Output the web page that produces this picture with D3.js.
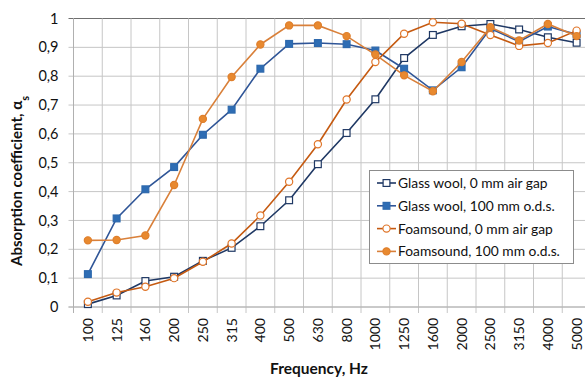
<!DOCTYPE html>
<html>
<head>
<meta charset="utf-8">
<script src="https://cdn.jsdelivr.net/npm/d3@7"></script>
<style>
  body { margin: 0; background: #fff; }
  svg text { font-family: Lato, "Open Sans", sans-serif; fill: #111; }
</style>
</head>
<body>
<svg id="chart" width="585" height="378"></svg>
<script>
// frequencies (x categories)
const freqs = ["100","125","160","200","250","315","400","500","630","800","1000","1250","1600","2000","2500","3150","4000","5000"];
const yTicks = [0,0.1,0.2,0.3,0.4,0.5,0.6,0.7,0.8,0.9,1];

// absorption coefficient per series
const glass0   = [0.01,0.04,0.09,0.105,0.16,0.205,0.28,0.37,0.495,0.603,0.72,0.863,0.943,0.973,0.981,0.962,0.935,0.916];
const glass100 = [0.114,0.307,0.408,0.485,0.597,0.684,0.826,0.912,0.915,0.911,0.889,0.826,0.751,0.831,0.965,0.92,0.972,0.945];
const foam0    = [0.018,0.05,0.07,0.10,0.157,0.22,0.317,0.434,0.564,0.719,0.849,0.947,0.987,0.982,0.943,0.905,0.915,0.958];
const foam100  = [0.231,0.232,0.248,0.423,0.652,0.797,0.91,0.976,0.976,0.939,0.875,0.803,0.748,0.849,0.97,0.924,0.981,0.939];

const seriesNames = ["Glass wool, 0 mm air gap","Glass wool, 100 mm o.d.s.","Foamsound, 0 mm air gap","Foamsound, 100 mm o.d.s."];

const series = [
  {name: seriesNames[0], values: glass0,   line: "#1f3864", stroke: "#1f3864", fill: "#fff",    shape: "square"},
  {name: seriesNames[1], values: glass100, line: "#2f5597", stroke: "#2e69ad", fill: "#2e6db4", shape: "square"},
  {name: seriesNames[2], values: foam0,    line: "#c55a11", stroke: "#e0762a", fill: "#fff",    shape: "circle"},
  {name: seriesNames[3], values: foam100,  line: "#d9803a", stroke: "#df7f2c", fill: "#e8892f", shape: "circle"}
];

const plotL = 73.5, plotR = 591, plotT = 18.5, plotB = 307;
const svg = d3.select("#chart");

const x = d3.scaleBand().domain(freqs).range([plotL, plotR]).padding(0);
const y = d3.scaleLinear().domain([0, 1]).range([plotB, plotT]);
const cx = d => x(d) + x.bandwidth() / 2;

// horizontal grid
svg.append("g").selectAll("line")
  .data(yTicks)
  .enter().append("line")
  .attr("x1", plotL - 5).attr("x2", plotR)
  .attr("y1", d => y(d)).attr("y2", d => y(d))
  .attr("stroke", d => d === 1 ? "#6f6f6f" : "#c6c6c6")
  .attr("stroke-width", 1);

// vertical grid at category boundaries
const bounds = freqs.map(f => x(f)).concat([plotR]);
svg.append("g").selectAll("line")
  .data(bounds)
  .enter().append("line")
  .attr("x1", d => d).attr("x2", d => d)
  .attr("y1", plotT).attr("y2", plotB + 6)
  .attr("stroke", "#c6c6c6")
  .attr("stroke-width", 1);

// y axis labels
const yAxis = svg.append("g")
  .attr("transform", "translate(" + plotL + ",0)")
  .call(d3.axisLeft(y).tickValues(yTicks).tickSize(0).tickPadding(15)
    .tickFormat(d => d3.format("~g")(d).replace(".", ",")));
yAxis.select(".domain").remove();
yAxis.selectAll("text").style("font-size", "14.5px").attr("fill", "#111");

// x axis labels
const xAxis = svg.append("g")
  .attr("transform", "translate(0," + plotB + ")")
  .call(d3.axisBottom(x).tickSize(0));
xAxis.select(".domain").remove();
xAxis.selectAll("text")
  .style("font-size", "14px")
  .attr("fill", "#111")
  .attr("transform", "rotate(-90)")
  .attr("x", -11)
  .attr("y", 0)
  .attr("dy", "0.36em")
  .attr("text-anchor", "end");

// axis lines
svg.append("line").attr("x1", plotL).attr("x2", plotL).attr("y1", plotT).attr("y2", plotB + 6)
  .attr("stroke", "#b0b0b0");
svg.append("line").attr("x1", plotL - 5).attr("x2", plotR).attr("y1", plotB).attr("y2", plotB)
  .attr("stroke", "#b0b0b0");

// series
const line = d3.line().x((d, i) => cx(freqs[i])).y(d => y(d));

function marker(g, s, px, py) {
  if (s.shape === "square") {
    g.append("rect").attr("x", px - 3.4).attr("y", py - 3.4).attr("width", 6.8).attr("height", 6.8)
      .attr("fill", s.fill).attr("stroke", s.stroke).attr("stroke-width", 1.2);
  } else {
    g.append("circle").attr("cx", px).attr("cy", py).attr("r", 3.6)
      .attr("fill", s.fill).attr("stroke", s.stroke).attr("stroke-width", 1.2);
  }
}

series.forEach(s => {
  const g = svg.append("g");
  g.append("path").datum(s.values).attr("d", line)
    .attr("fill", "none").attr("stroke", s.line).attr("stroke-width", 1.6);
  s.values.forEach((v, i) => marker(g, s, cx(freqs[i]), y(v)));
});

// legend
const lg = svg.append("g");
lg.append("rect").attr("x", 369.5).attr("y", 170.5).attr("width", 204).attr("height", 93)
  .attr("fill", "#fff").attr("stroke", "#8c8c8c");
series.forEach((s, i) => {
  const ly = 183 + i * 22.8;
  lg.append("line").attr("x1", 377).attr("x2", 396).attr("y1", ly).attr("y2", ly)
    .attr("stroke", s.line).attr("stroke-width", 1.6);
  marker(lg, s, 386.5, ly);
  lg.append("text").attr("x", 398).attr("y", ly).attr("dy", "0.36em")
    .style("font-size", "13.8px").text(s.name);
});

// axis titles
svg.append("text")
  .attr("x", 319).attr("y", 374)
  .attr("text-anchor", "middle")
  .style("font-size", "15.5px").style("font-weight", "bold")
  .text("Frequency, Hz");

const yt = svg.append("text")
  .attr("transform", "translate(22,181) rotate(-90)")
  .attr("text-anchor", "middle")
  .style("font-size", "15px").style("font-weight", "bold");
yt.append("tspan").text("Absorption coefficient, α");
yt.append("tspan").attr("baseline-shift", "sub").style("font-size", "11px").text("s");
</script>
</body>
</html>
